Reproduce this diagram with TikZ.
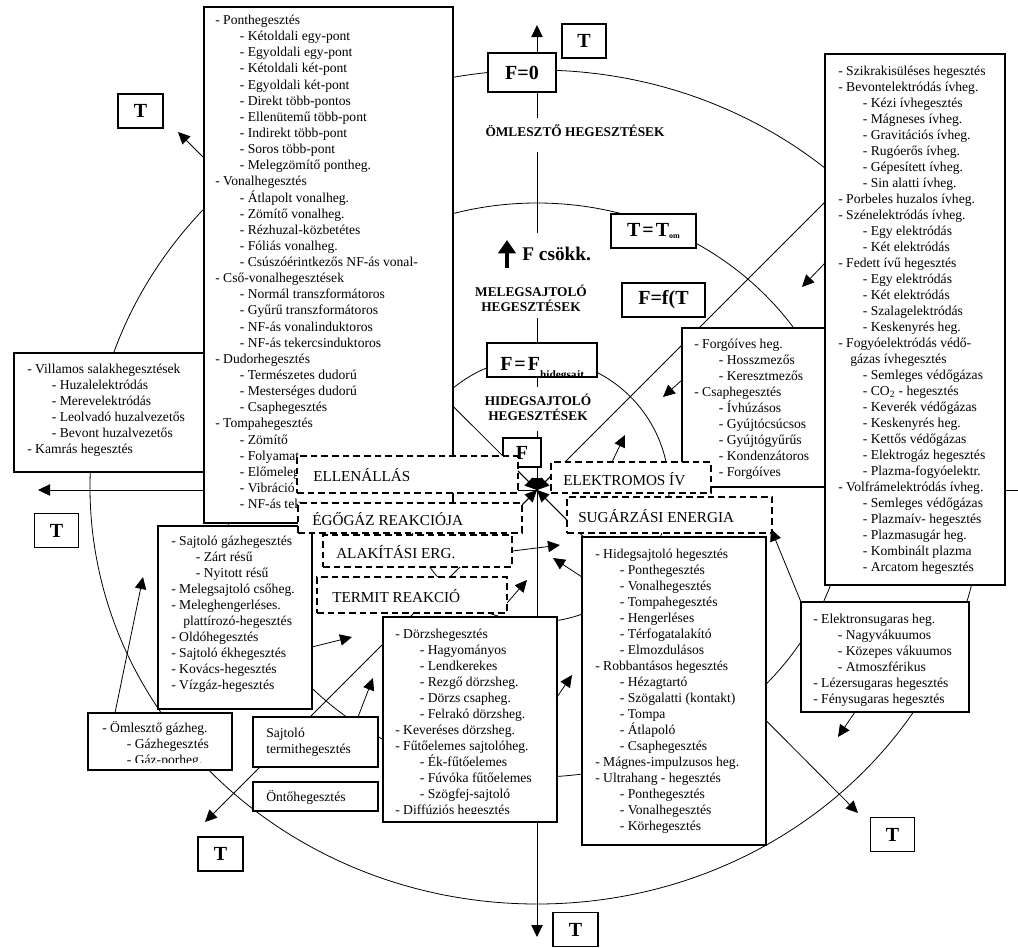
\documentclass[tikz,border=0pt]{standalone}
\usepackage{fontspec}
\setmainfont{Liberation Serif}
\usetikzlibrary{arrows.meta,fit}
\newcommand\subi{\hspace*{18.5pt}}
\newcommand\cont{\hspace*{9pt}}
\newcommand\rbox[6]{\coordinate (#2nw) at (#3,#4);\coordinate (#2se) at (#5,#6);\node[#1,fit=(#2nw)(#2se)] (#2) {};}
\tikzset{
 ln/.style={line width=0.6pt},
 box/.style={draw,fill=white,line width=1pt,inner sep=0pt},
 dbox/.style={box,dash pattern=on 5pt off 3pt},
 lst/.style={font=\fontsize{10.2}{12}\selectfont,align=left,anchor=north west,inner sep=0pt},
 tb/.style={box,font=\bfseries\fontsize{15}{15}\selectfont,minimum width=33pt,minimum height=25.5pt},
 hlabel/.style={font=\bfseries\fontsize{10}{11.3}\selectfont,align=center,inner sep=0pt},
 en/.style={font=\fontsize{11.4}{12}\selectfont,anchor=west,inner sep=0pt},
 arr/.style={ln,-{Triangle[length=9pt,width=8.5pt]}},
}
\begin{document}
\begin{tikzpicture}[x=0.75pt,y=-0.75pt]
\useasboundingbox (0,0) rectangle (1018,947);
% key points
\coordinate (C) at (537,490);
\coordinate (Ntip) at (537,25);
\coordinate (Stip) at (537,937);
\coordinate (Wtip) at (38,490);
\coordinate (NWtip) at (178,132);
\coordinate (SWtip) at (205,822);
\coordinate (SEtip) at (858,813);
\coordinate (NEend) at (825,202);
\coordinate (Eend) at (1018,490);
% circles
\draw[ln] (537,487) ellipse [x radius=335.25pt,y radius=312.75pt];
\draw[ln] (C) ellipse [x radius=233.25pt,y radius=215.25pt];
\draw[ln] (C) circle [radius=99pt];
% axes and diagonals
\draw[arr] (C) -- (Stip);
\draw[arr] (C) -- (Wtip);
\draw[arr] (C) -- (NWtip);
\draw[arr] (C) -- (SWtip);
\draw[arr] (C) -- (SEtip);
\draw[ln] (C) -- (NEend);

% centre labels
\node[tb,minimum width=51pt,minimum height=29.25pt] (f0) at (522,72.5) {F=0};
\node[hlabel] (oml) at (575,131) {ÖMLESZTŐ HEGESZTÉSEK};
\node[tb,minimum width=63.75pt] (tt) at (653.5,231) {T\kern1.5pt=\kern1.5pt T\raisebox{-1pt}{\fontsize{6}{6}\selectfont om}};
\draw[line width=3pt,-{Triangle[length=10pt,width=13pt]}] (507,268) -- (507,240) coordinate (fcsa);
\node[font=\bfseries\fontsize{14.5}{14.5}\selectfont,anchor=west,inner sep=0pt] (fcs) at (522,254) {F csökk.};
\node[hlabel] (mel) at (531,298) {MELEGSAJTOLÓ\\HEGESZTÉSEK};
\node[tb,minimum width=62.25pt] (ff) at (663.5,300) {F=f(T};
\node[box,minimum width=82.5pt,minimum height=25.5pt] (fh) at (542,360) {};
\begin{scope}
\clip (fh.south west) rectangle (fh.north east);
\node[anchor=base west,font=\bfseries\fontsize{15}{15}\selectfont,inner sep=0pt] (fht) at (500,370) {F\kern1.5pt=\kern1.5pt F\raisebox{-6.5pt}{\fontsize{8.5}{8.5}\selectfont hidegsajt}};
\end{scope}
\node[hlabel] (hid) at (538,407) {HIDEGSAJTOLÓ\\HEGESZTÉSEK};
\node[tb,minimum width=28.5pt,minimum height=21.75pt] (fb) at (522,452.5) {F};
% vertical axis segments
\draw[arr] (f0.north -| C) -- (Ntip);
\draw[ln] (f0.south -| C) -- (537,118);
\draw[ln] (537,152) -- (537,233);
\draw[ln] (537,318) -- (fh.north -| C);
\draw[ln] (fh.south -| C) -- (537,387);
\draw[ln] (537,431) -- (fb.north -| C);

% list boxes
\rbox{box}{tl}{204}{7}{453}{523}
\node[lst,font=\fontsize{10.2}{12.1}\selectfont] (tlt) at (215,13) {\strut- Ponthegesztés\\
\subi- Kétoldali egy-pont\\
\subi- Egyoldali egy-pont\\
\subi- Kétoldali két-pont\\
\subi- Egyoldali két-pont\\
\subi- Direkt több-pontos\\
\subi- Ellenütemű több-pont\\
\subi- Indirekt több-pont\\
\subi- Soros több-pont\\
\subi- Melegzömítő pontheg.\\
- Vonalhegesztés\\
\subi- Átlapolt vonalheg.\\
\subi- Zömítő vonalheg.\\
\subi- Rézhuzal-közbetétes\\
\subi- Fóliás vonalheg.\\
\subi- Csúszóérintkezős NF-ás vonal-\\
- Cső-vonalhegesztések\\
\subi- Normál transzformátoros\\
\subi- Gyűrű transzformátoros\\
\subi- NF-ás vonalinduktoros\\
\subi- NF-ás tekercsinduktoros\\
- Dudorhegesztés\\
\subi- Természetes dudorú\\
\subi- Mesterséges dudorú\\
\subi- Csaphegesztés\\
- Tompahegesztés\\
\subi- Zömítő\\
\subi- Folyamat\\
\subi- Előmeleg\\
\subi- Vibráció\\
\subi- NF-ás tek};

\rbox{box}{vs}{14}{353}{204}{472}
\node[lst] (vst) at (27,362) {\strut- Villamos salakhegesztések\\
\subi- Huzalelektródás\\
\subi- Merevelektródás\\
\subi- Leolvadó huzalvezetős\\
\subi- Bevont huzalvezetős\\
- Kamrás hegesztés};

\rbox{box}{sg}{158}{526}{312}{709}
\node[lst] (sgt) at (171,534) {\strut- Sajtoló gázhegesztés\\
\subi- Zárt résű\\
\subi- Nyitott résű\\
- Melegsajtoló csőheg.\\
- Meleghengerléses.\\
\cont plattírozó-hegesztés\\
- Oldóhegesztés\\
- Sajtoló ékhegesztés\\
- Kovács-hegesztés\\
- Vízgáz-hegesztés};

\rbox{box}{om}{88}{713}{232}{770}
\begin{scope}
\clip (88,713) rectangle (232,762);
\node[lst] (omt) at (102,721) {\strut- Ömlesztő gázheg.\\
\subi- Gázhegesztés\\
\subi- Gáz-porheg.};
\end{scope}

\rbox{box}{st}{253}{717}{378}{767}
\node[lst] (stt) at (266,726) {\strut Sajtoló\\termithegesztés};
\rbox{box}{ot}{253}{782}{378}{811}
\node[lst] (ott) at (266,790) {\strut Öntőhegesztés};

\rbox{box}{dz}{383}{617}{557}{822}
\begin{scope}
\clip (383,617) rectangle (557,813);
\node[lst] (dzt) at (395,627) {\strut- Dörzshegesztés\\
\subi- Hagyományos\\
\subi- Lendkerekes\\
\subi- Rezgő dörzsheg.\\
\subi- Dörzs csapheg.\\
\subi- Felrakó dörzsheg.\\
- Keveréses dörzsheg.\\
- Fűtőelemes sajtolóheg.\\
\subi- Ék-fűtőelemes\\
\subi- Fúvóka fűtőelemes\\
\subi- Szögfej-sajtoló\\
- Diffúziós hegesztés};
\end{scope}

\rbox{box}{hs}{582}{537}{766}{845}
\node[lst] (hst) at (595,547) {\strut- Hidegsajtoló hegesztés\\
\subi- Ponthegesztés\\
\subi- Vonalhegesztés\\
\subi- Tompahegesztés\\
\subi- Hengerléses\\
\subi- Térfogatalakító\\
\subi- Elmozdulásos\\
- Robbantásos hegesztés\\
\subi- Hézagtartó\\
\subi- Szögalatti (kontakt)\\
\subi- Tompa\\
\subi- Átlapoló\\
\subi- Csaphegesztés\\
- Mágnes-impulzusos heg.\\
- Ultrahang - hegesztés\\
\subi- Ponthegesztés\\
\subi- Vonalhegesztés\\
\subi- Körhegesztés};

\rbox{box}{fv}{682}{328}{828}{487}
\node[lst] (fvt) at (694,337) {\strut- Forgóíves heg.\\
\subi- Hosszmezős\\
\subi- Keresztmezős\\
- Csaphegesztés\\
\subi- Ívhúzásos\\
\subi- Gyújtócsúcsos\\
\subi- Gyújtógyűrűs\\
\subi- Kondenzátoros\\
\subi- Forgóíves};

\rbox{box}{rb}{825}{54}{1005}{585}
\node[lst] (rbt) at (838,64) {\strut- Szikrakisüléses hegesztés\\
- Bevontelektródás ívheg.\\
\subi- Kézi ívhegesztés\\
\subi- Mágneses ívheg.\\
\subi- Gravitációs ívheg.\\
\subi- Rugóerős ívheg.\\
\subi- Gépesített ívheg.\\
\subi- Sin alatti ívheg.\\
- Porbeles huzalos ívheg.\\
- Szénelektródás ívheg.\\
\subi- Egy elektródás\\
\subi- Két elektródás\\
- Fedett ívű hegesztés\\
\subi- Egy elektródás\\
\subi- Két elektródás\\
\subi- Szalagelektródás\\
\subi- Keskenyrés heg.\\
- Fogyóelektródás védő-\\
\cont gázas ívhegesztés\\
\subi- Semleges védőgázas\\
\subi- CO\textsubscript{2} - hegesztés\\
\subi- Keverék védőgázas\\
\subi- Keskenyrés heg.\\
\subi- Kettős védőgázas\\
\subi- Elektrogáz hegesztés\\
\subi- Plazma-fogyóelektr.\\
- Volfrámelektródás ívheg.\\
\subi- Semleges védőgázas\\
\subi- Plazmaív- hegesztés\\
\subi- Plazmasugár heg.\\
\subi- Kombinált plazma\\
\subi- Arcatom hegesztés};
\draw[ln] (rb.east |- C) -- (Eend);

\rbox{box}{es}{801}{602}{969}{712}
\node[lst] (est) at (813,612) {\strut- Elektronsugaras heg.\\
\subi- Nagyvákuumos\\
\subi- Közepes vákuumos\\
\subi- Atmoszférikus\\
- Lézersugaras hegesztés\\
- Fénysugaras hegesztés};

% energy boxes (dashed)
\rbox{dbox}{ell}{297}{456}{518}{493}
\node[en] (ellt) at (313,475) {ELLENÁLLÁS};
\rbox{dbox}{ego}{298}{503}{522}{533}
\node[en] (egot) at (312,519) {ÉGŐGÁZ REAKCIÓJA};
\rbox{dbox}{ala}{323}{535}{512}{567}
\node[en] (alat) at (336,552) {ALAKÍTÁSI ERG.};
\rbox{dbox}{ter}{317}{577}{507}{613}
\node[en] (tert) at (332,596) {TERMIT REAKCIÓ};
\rbox{dbox}{ele}{551}{462}{711}{493}
\node[en] (elet) at (563,479) {ELEKTROMOS ÍV};
\rbox{dbox}{sug}{567}{497}{772}{533}
\node[en] (sugt) at (578,516) {SUGÁRZÁSI ENERGIA};

% T boxes
\node[tb] (tN) at (584,41) {T};
\node[tb,minimum width=33.75pt] (tNW) at (140.5,111) {T};
\node[tb] (tW) at (56.5,530.5) {T};
\node[tb,minimum width=33.75pt] (tSW) at (220.5,854) {T};
\node[tb] (tSE) at (892.5,834.5) {T};
\node[tb,minimum width=33.75pt] (tS) at (575.5,929.5) {T};

% arrows converging at the centre
\coordinate (ellE) at (518,471);
\coordinate (egoE) at (523,504);
\coordinate (eleW) at (551,476);
\coordinate (sugW) at (567,520);
\draw[arr] (fb.south -| C) -- (C);
\draw[arr] (ellE) -- (C);
\draw[arr] (egoE) -- (C);
\draw[arr] (eleW) -- (C);
\draw[arr] (sugW) -- (C);

% other short arrows
\coordinate (a1) at (560,545);
\draw[arr] (ala.east) -- (a1);
\coordinate (b0) at (582,577); \coordinate (b1) at (553,558);
\draw[arr] (b0) -- (b1);
\coordinate (c0) at (507,603); \coordinate (c1) at (527,580);
\draw[arr] (c0) -- (c1);
\coordinate (d0) at (557,697); \coordinate (d1) at (572,675);
\draw[arr] (d0) -- (d1);
\coordinate (e0) at (312,647); \coordinate (e1) at (352,637);
\draw[arr] (e0) -- (e1);
\coordinate (g0) at (358,717); \coordinate (g1) at (373,678);
\draw[arr] (g0) -- (g1);
\coordinate (h0) at (115,713); \coordinate (h1) at (143,577);
\draw[arr] (h0) -- (h1);
\coordinate (m0) at (612,462); \coordinate (m1) at (625,435);
\draw[arr] (m0) -- (m1);
\coordinate (n0) at (682,380); \coordinate (n1) at (663,397);
\draw[arr] (n0) -- (n1);
\coordinate (o0) at (825,263); \coordinate (o1) at (802,287);
\draw[arr] (o0) -- (o1);
\coordinate (p0) at (801,602); \coordinate (p1) at (771,529);
\draw[arr] (p0) -- (p1);
\coordinate (q0) at (855,712); \coordinate (q1) at (838,737);
\draw[arr] (q0) -- (q1);
\end{tikzpicture}
\end{document}
